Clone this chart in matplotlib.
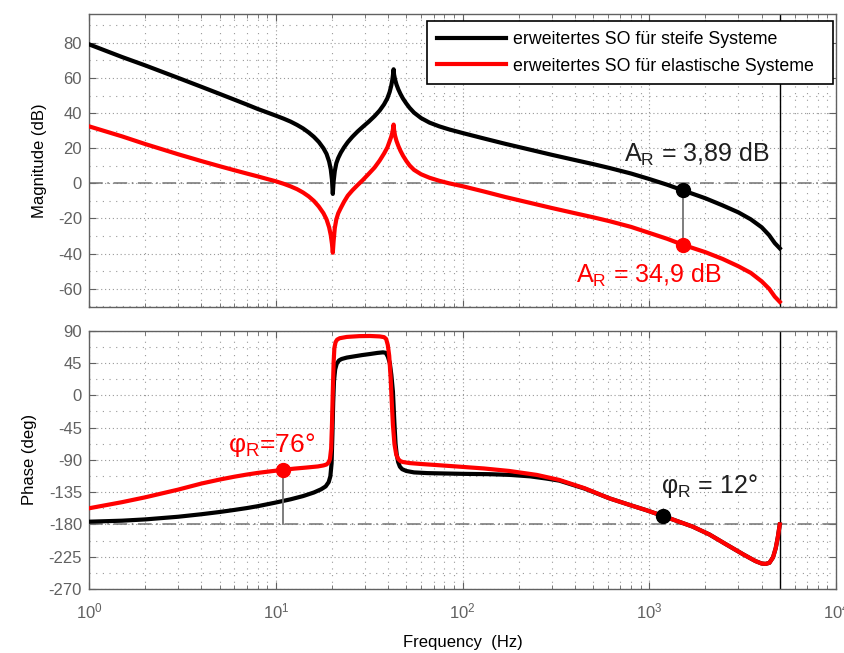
import numpy as np
import matplotlib
matplotlib.use('Agg')
import matplotlib.pyplot as plt
from matplotlib.ticker import LogLocator, MultipleLocator, NullFormatter

plt.rcParams['font.family'] = ['Liberation Sans', 'DejaVu Sans']
plt.rcParams['mathtext.fontset'] = 'custom'
plt.rcParams['mathtext.rm'] = 'Liberation Sans'
plt.rcParams['axes.unicode_minus'] = False

# magnitude (dB), black = steife Systeme, red = elastische Systeme
f_mag_k = [1, 1.5, 2, 3, 4, 5, 6, 7, 8, 9, 10, 11, 12, 13, 14, 15, 16, 17, 18, 18.7, 19.3,
           19.7, 20.0, 20.2, 20.4, 20.7, 21.1, 21.6, 22.3, 23.2, 24.3, 25.7, 27.4, 29.3, 31.5,
           33.8, 36, 38, 39.6, 40.7, 41.5, 42.1, 42.5, 42.75, 43.0, 43.5, 44.3, 45.3, 46.5, 48,
           50, 52.1, 55, 60, 66.6, 75, 85, 100, 130, 170, 228, 300, 400, 500, 611, 800,
           1000, 1250, 1507, 2000, 2466, 3000, 3500, 4000, 4385, 4700, 5000]
mag_k = [79.2, 72.0, 67.2, 60.1, 55.0, 51.0, 47.7, 44.9, 42.4, 40.4, 38.6, 36.9, 35.2, 33.3, 31.3,
         29.0, 26.5, 23.6, 20.0, 16.8, 12.5, 8.0, 2.0, -6.0, 1.0, 7.0, 11.5, 14.5, 17.5, 20.5,
         23.5, 26.5, 29.5, 32.3, 35.2, 38.3, 41.5, 45.0, 48.5, 52.0, 55.5, 59.0, 62.5, 65.0,
         62.0, 59.3, 56.3, 53.6, 51.0, 48.3, 45.5, 43.0, 40.3, 37.2, 34.6, 32.5, 30.7,
         28.7, 25.6, 22.5, 19.3, 16.3, 13.3, 11.0, 8.8, 5.6, 2.5, -0.8, -3.89, -8.5, -12.5,
         -16.5, -20.5, -25.0, -29.5, -34.0, -37.0]

f_mag_r = f_mag_k
mag_r = [32.5, 26.8, 22.4, 16.6, 12.7, 9.8, 7.5, 5.6, 4.0, 2.5, 1.2, -0.2, -1.7, -3.3, -5.2,
         -7.4, -10.0, -13.2, -17.0, -20.5, -25.0, -29.5, -34.5, -39.5, -33.0, -25.5, -20.5,
         -17.0, -14.0, -10.5, -7.0, -4.0, -1.0, 2.0, 5.5, 9.0, 13.0, 17.0, 20.5, 24.0, 26.5,
         29.0, 31.3, 33.5, 30.5, 27.3, 24.2, 21.4, 18.6, 15.8, 12.8, 10.2, 7.7, 5.2,
         3.2, 1.5, 0.0, -1.6, -4.6, -7.8, -11.0, -14.0, -17.0, -19.3, -21.5, -24.8, -28.2,
         -31.6, -34.9, -39.2, -43.0, -47.2, -51.0, -55.8, -60.0, -64.5, -67.5]

# phase (deg)
f_ph_k = [1, 1.5, 2, 3, 4, 5, 6, 7, 8, 10, 12, 14, 16, 17.5, 18.5, 19.2, 19.6, 19.9, 20.1,
          20.3, 20.5, 20.8, 21.2, 21.8, 22.5, 24, 26, 29, 32, 35, 37.5, 38.8, 39.8, 40.8, 41.6,
          42.4, 43.2, 43.8, 44.4, 45.2, 46.2, 47.5, 50, 55, 65, 80, 100, 140, 180, 230, 280,
          330, 450, 611, 800, 960, 1178, 1400, 1706, 2100, 2570, 3200, 3700, 4000, 4200,
          4400, 4600, 4757, 4880, 5000]
ph_k = [-176.2, -174.8, -173.0, -169.3, -165.8, -162.7, -159.8, -157.2, -154.6, -149.5, -145.0,
        -140.5, -135.5, -131.0, -127.0, -121.0, -113.0, -95.0, -55.0, -10.0, 20.0, 36.0, 44.0,
        48.5, 50.5, 52.5, 54.0, 56.0, 57.5, 59.0, 59.8, 59.2, 54.0, 45.0, 28.0, 5.0, -40.0,
        -68.0, -82.0, -93.0, -99.5, -103.0, -105.5, -107.5, -108.5, -109.0, -109.5, -110.0,
        -111.0, -113.0, -116.0, -119.0, -130.0, -143.6, -153.5, -160.0, -168.0, -175.0,
        -183.0, -194.0, -207.5, -222.0, -231.0, -234.5, -235.0, -233.5, -226.0, -213.0,
        -198.0, -180.0]

f_ph_r = [1, 1.5, 2, 3, 4, 5, 6, 7, 8, 9.5, 10.9, 12.5, 14.5, 16.8, 18, 18.7, 19.2, 19.5, 19.8,
          20.0, 20.2, 20.4, 20.6, 20.9, 21.3, 22, 24, 28, 32, 36, 38, 39, 39.8, 40.5, 41.2,
          41.8, 42.4, 43.2, 44.2, 45.3, 46.5, 47.9, 52, 60, 72, 96, 130, 178, 250, 330, 450,
          611, 800, 960, 1178, 1400, 1706, 2100, 2570, 3200, 3700, 4000, 4200, 4400, 4600,
          4757, 4880, 5000]
ph_r = [-157.5, -149.0, -142.2, -131.5, -123.0, -117.5, -113.5, -110.5, -108.2, -105.8, -104.0,
        -102.3, -100.8, -99.2, -97.8, -96.5, -93.5, -89.0, -74.0, -40.0, 5.0, 45.0, 66.0,
        74.0, 77.5, 79.5, 81.3, 82.4, 82.6, 82.0, 81.0, 78.5, 70.0, 55.0, 25.0, -10.0, -41.4,
        -68.0, -83.2, -89.0, -91.8, -93.0, -94.5, -95.8, -97.2, -99.5, -102.0, -105.5, -111.0,
        -118.0, -129.5, -143.6, -153.5, -160.0, -168.0, -175.0, -183.0, -194.0, -207.5,
        -222.0, -231.0, -234.5, -235.0, -233.5, -226.0, -213.0, -198.0, -180.0]

# stability reserve points
f_AR = 1507
AR_k, AR_r = -3.89, -34.9
f_phiR_r, phiR_r = 10.9, -104
f_phiR_k, phiR_k = 1178, -168
f_nyq = 5000

leg_labels = ['erweitertes SO für steife Systeme', 'erweitertes SO für elastische Systeme']

spine_c = (0.38, 0.38, 0.38)
grid_c = (0.6, 0.6, 0.6)
ref_c = (0.45, 0.45, 0.45)
dark = (0.12, 0.12, 0.12)

fig = plt.figure(figsize=(8.44, 6.53), dpi=100)
ax1 = fig.add_axes([0.1055, 0.5299, 0.885, 0.4487])
ax2 = fig.add_axes([0.1055, 0.098, 0.885, 0.3956])


def style(ax):
    ax.set_xscale('log')
    ax.set_xlim(1, 1e4)
    ax.xaxis.set_major_locator(LogLocator(base=10, numticks=10))
    ax.xaxis.set_minor_locator(LogLocator(base=10, subs=np.arange(2, 10), numticks=10))
    ax.xaxis.set_minor_formatter(NullFormatter())
    ax.grid(True, which='major', color=grid_c, linestyle=(0, (1, 2.5)), linewidth=0.8)
    ax.grid(True, which='minor', color=grid_c, linestyle=(0, (1, 5)), linewidth=0.8)
    ax.tick_params(which='both', direction='in', top=True, right=True, colors=spine_c,
                   labelsize=12, labelcolor=spine_c)
    ax.tick_params(which='major', length=5, pad=5)
    ax.tick_params(axis='x', which='major', pad=9)
    ax.tick_params(which='minor', length=3)
    for s in ax.spines.values():
        s.set_color(spine_c)
        s.set_linewidth(1.0)
    ax.set_axisbelow(True)


style(ax1)
style(ax2)

# magnitude
ax1.axhline(0, color=ref_c, lw=1.1, dashes=(9, 3, 1, 3), zorder=1)
ax1.axvline(f_nyq, color='black', lw=1.0, zorder=2)
ax1.plot(f_mag_k, mag_k, color='black', lw=3, label=leg_labels[0], zorder=3)
ax1.plot(f_mag_r, mag_r, color='red', lw=3, label=leg_labels[1], zorder=4)
ax1.plot([f_AR, f_AR], [AR_k, AR_r], color=ref_c, lw=1.3, zorder=3.5)
ax1.plot(f_AR, AR_k, 'o', color='black', ms=10, zorder=5)
ax1.plot(f_AR, AR_r, 'o', color='red', ms=10, zorder=5)
ax1.text(735, 12.2, r'A$_\mathregular{R}$ = 3,89 dB', fontsize=18, color=dark,
         va='baseline', ha='left')
ax1.text(407, -56.5, r'A$_\mathregular{R}$ = 34,9 dB', fontsize=18, color='red',
         va='baseline', ha='left')
ax1.set_ylim(-70.4, 96.5)
ax1.yaxis.set_major_locator(MultipleLocator(20))
ax1.yaxis.set_minor_locator(MultipleLocator(10))
ax1.grid(True, which='minor', axis='y', color=grid_c, linestyle=(0, (1, 5)), linewidth=0.8)
ax1.tick_params(axis='y', which='minor', length=0)
ax1.set_xticklabels([])
ax1.set_ylabel('Magnitude (dB)', fontsize=12, labelpad=8)
leg = ax1.legend(loc='upper left', bbox_to_anchor=(0.4525, 0.754, 0.5435, 0.222),
                 mode='expand', borderaxespad=0, fontsize=12.8, handlelength=3.9,
                 handletextpad=0.4, fancybox=False, framealpha=1, edgecolor='black',
                 borderpad=0.55, labelspacing=0.55)
leg.get_frame().set_linewidth(1.2)

# phase
ax2.axhline(-180, color=ref_c, lw=1.1, dashes=(9, 3, 1, 3), zorder=1)
ax2.axvline(f_nyq, color='black', lw=1.0, zorder=2)
ax2.plot(f_ph_k, ph_k, color='black', lw=3, zorder=3)
ax2.plot(f_ph_r, ph_r, color='red', lw=3, zorder=4)
ax2.plot([f_phiR_r, f_phiR_r], [phiR_r, -180], color=ref_c, lw=1.3, zorder=3.5)
ax2.plot(f_phiR_r, phiR_r, 'o', color='red', ms=10, zorder=5)
ax2.plot(f_phiR_k, phiR_k, 'o', color='black', ms=10, zorder=5)
ax2.text(5.54, -79, r'φ$_\mathregular{R}$=76°', fontsize=19, color='red',
         va='baseline', ha='left')
ax2.text(1159, -136.2, r'φ$_\mathregular{R}$ = 12°', fontsize=18, color=dark,
         va='baseline', ha='left')
ax2.set_ylim(-270, 90)
ax2.yaxis.set_major_locator(MultipleLocator(45))
ax2.yaxis.set_minor_locator(MultipleLocator(22.5))
ax2.grid(True, which='minor', axis='y', color=grid_c, linestyle=(0, (1, 5)), linewidth=0.8)
ax2.tick_params(axis='y', which='minor', length=0)
ax2.set_ylabel('Phase (deg)', fontsize=12, labelpad=8)
ax2.set_xlabel('Frequency  (Hz)', fontsize=12, labelpad=10)

fig.savefig('out.png', dpi=100)
